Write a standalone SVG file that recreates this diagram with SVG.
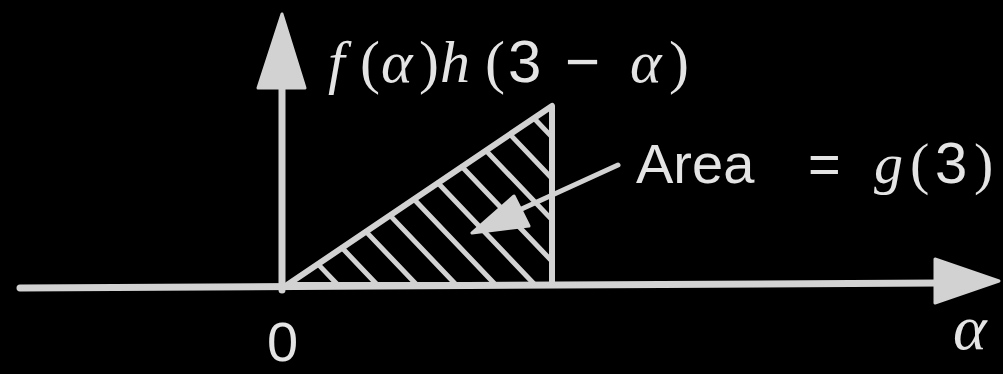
<svg xmlns="http://www.w3.org/2000/svg" width="1003" height="374" viewBox="0 0 1003 374">
  <style>
    .ln{stroke:#d2d2d2;fill:none;stroke-linecap:round;stroke-linejoin:round}
    .fill{fill:#d2d2d2;stroke:#d2d2d2;stroke-linejoin:round}
    .serif{font-family:"Liberation Serif","DejaVu Serif",serif;fill:#e4e4e4}
    .it{font-style:italic}
    .sans{font-family:"Liberation Sans","DejaVu Sans",sans-serif;fill:#e4e4e4}
  </style>
  <rect width="1003" height="374" fill="#000"/>
  <g id="connectors">
    <line class="ln" x1="20" y1="288" x2="940" y2="283" stroke-width="7"/>
    <polygon class="fill" stroke-width="3" points="935,259 999,281 935,303"/>
    <line class="ln" x1="282" y1="290" x2="282" y2="84" stroke-width="7"/>
    <polygon class="fill" stroke-width="3" points="258,88 282,14 305,88"/>
  </g>
  <g id="triangle">
    <polygon class="ln" stroke-width="6" points="287,285 552,106 552,285"/>
    <g class="ln" stroke-width="5">
      <line x1="318" y1="264.1" x2="337.9" y2="285"/>
      <line x1="342" y1="247.8" x2="377.4" y2="285"/>
      <line x1="366" y1="231.6" x2="416.9" y2="285"/>
      <line x1="390" y1="215.4" x2="456.3" y2="285"/>
      <line x1="414" y1="199.2" x2="495.7" y2="285"/>
      <line x1="438" y1="183" x2="535.1" y2="285"/>
      <line x1="462" y1="166.8" x2="552" y2="261.3"/>
      <line x1="486" y1="150.6" x2="552" y2="219.9"/>
      <line x1="510" y1="134.4" x2="552" y2="178.5"/>
      <line x1="534" y1="118.2" x2="552" y2="137.1"/>
    </g>
  </g>
  <g id="pointer">
    <line class="ln" x1="618" y1="165" x2="515" y2="212" stroke-width="5"/>
    <polygon class="fill" stroke-width="3" points="472,233 529,226 514,196"/>
  </g>
  <g id="label-y">
    <text class="serif" font-size="60" y="82">
      <tspan class="it" x="328">f</tspan><tspan x="360">(</tspan><tspan class="it" x="381">α</tspan><tspan x="419">)</tspan><tspan class="it" x="440">h</tspan><tspan x="485">(</tspan><tspan class="sans" x="508">3</tspan><tspan class="sans" x="565">−</tspan><tspan class="it" x="630">α</tspan><tspan x="669">)</tspan>
    </text>
  </g>
  <g id="label-area">
    <text class="sans" font-size="56" x="636" y="183">Area</text>
    <text class="sans" font-size="56" x="808" y="183">=</text>
    <text class="serif" font-size="58" y="183"><tspan class="it" x="874">g</tspan><tspan x="910">(</tspan><tspan class="sans" x="935">3</tspan><tspan x="974">)</tspan></text>
  </g>
  <g id="label-zero">
    <text class="sans" font-size="56" x="267" y="361">0</text>
  </g>
  <g id="label-alpha">
    <text class="serif it" font-size="64" x="953" y="349">α</text>
  </g>
</svg>
